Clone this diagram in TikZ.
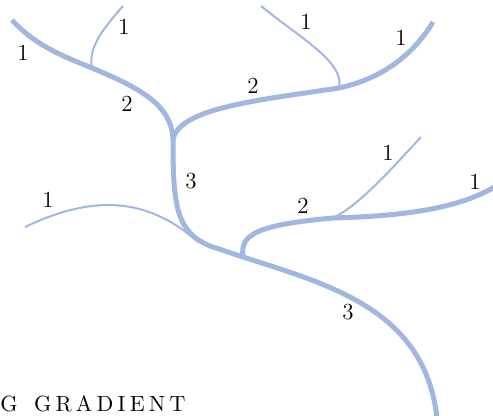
\documentclass[tikz,border=0pt]{standalone}
\usepackage{fontspec}
\newfontfamily\spacedcaps{lmroman10-regular}[Extension=.otf, LetterSpace=19]
\definecolor{river}{HTML}{A1B6E0}
\tikzset{
  trunk/.style={river, line width=2.5pt},
  twig/.style={river, line width=1pt},
  order/.style={font=\fontsize{11.5}{14}\selectfont, inner sep=0pt},
}

\begin{document}
\begin{tikzpicture}[x=0.5pt,y=-0.5pt]
  \useasboundingbox (0,0) rectangle (493,416);
  % sources, junctions and outlet
  \coordinate (srcA) at (12,20);
  \coordinate (srcB) at (123,6);
  \coordinate (srcC) at (261,6);
  \coordinate (srcD) at (433,22);
  \coordinate (srcE) at (25,227);
  \coordinate (srcF) at (421,137);
  \coordinate (srcG) at (496,186);
  \coordinate (jAB) at (92,68);
  \coordinate (jCD) at (339,88);
  \coordinate (jFG) at (333,218);
  \coordinate (jTop) at (173,140);
  \coordinate (jLow) at (243,257);
  \coordinate (mouth) at (437,418);
  % main stream
  \draw[trunk] (srcA) .. controls (35,45) and (60,55) .. (jAB)
    .. controls (140,88) and (172,105) .. (jTop)
    .. controls (173,205) and (176,232) .. (210,246) -- (jLow)
    .. controls (330,285) and (425,310) .. (mouth);
  \draw[trunk] (jTop) .. controls (178,108) and (260,100) .. (jCD)
    .. controls (385,78) and (415,52) .. (srcD);
  \draw[trunk] (jLow) .. controls (240,235) and (255,225) .. (jFG)
    .. controls (410,216) and (462,207) .. (srcG);
  % small tributaries
  \draw[twig] (srcB) .. controls (102,30) and (88,48) .. (jAB);
  \draw[twig] (srcC) .. controls (300,38) and (345,62) .. (jCD);
  \draw[twig] (srcE) .. controls (90,196) and (145,195) .. (198,242);
  \draw[twig] (srcF) .. controls (395,165) and (360,205) .. (jFG);
  % stream orders
  \node[order] (oA) at (23,53) {1};
  \node[order] (oB) at (124,27) {1};
  \node[order] (oAB) at (127,104) {2};
  \node[order] (oC) at (306,22) {1};
  \node[order] (oD) at (401,38) {1};
  \node[order] (oCD) at (253,86) {2};
  \node[order] (oMid) at (191,181) {3};
  \node[order] (oE) at (48,200) {1};
  \node[order] (oF) at (388,153) {1};
  \node[order] (oG) at (475,182) {1};
  \node[order] (oFG) at (303,206) {2};
  \node[order] (oLow) at (348,312) {3};
  \node[anchor=base west, inner sep=0pt, font=\fontsize{11}{13}\spacedcaps] (caption) at (0,412) {G\hspace{2.5pt} GRADIENT};
\end{tikzpicture}
\end{document}
